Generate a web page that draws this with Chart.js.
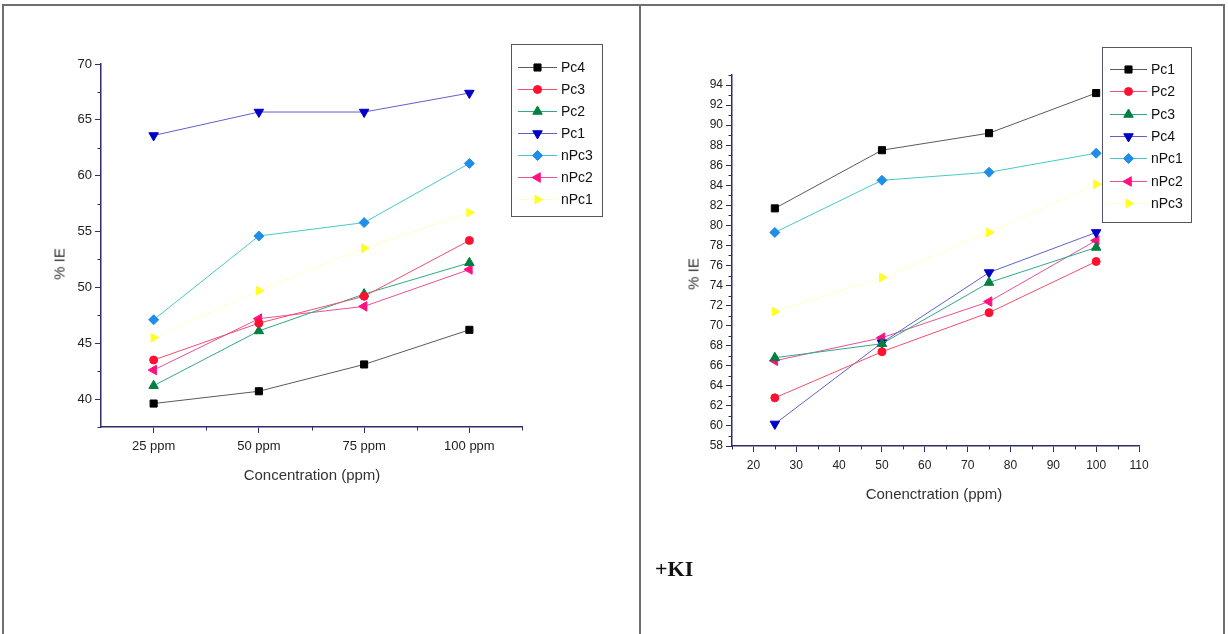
<!DOCTYPE html>
<html>
<head>
<meta charset="utf-8">
<script src="https://cdn.jsdelivr.net/npm/chart.js@4.4.1/dist/chart.umd.min.js"></script>
<style>
  html, body { margin:0; padding:0; background:#fff; }
  body { width:1228px; height:634px; position:relative; overflow:hidden; font-family:'Liberation Sans', Arial, sans-serif; }
  canvas { position:absolute; left:0; top:0; }
  .frame { position:absolute; background:#6e6e78; }
  .title { position:absolute; font-size:15px; font-weight:normal; color:#333; white-space:nowrap; transform:translate(-50%,-50%); }
  .ytitle { transform:translate(-50%,-50%) rotate(-90deg); }
  .ki { position:absolute; left:655px; top:558px; font-family:'Liberation Serif','Times New Roman',serif; font-weight:bold; font-size:22px; line-height:22px; color:#111; }
</style>
</head>
<body>
<div class="frame" style="left:2px;top:4px;width:1223px;height:2px;"></div>
<div class="frame" style="left:2px;top:4px;width:2px;height:630px;"></div>
<div class="frame" style="left:639px;top:4px;width:2px;height:630px;"></div>
<div class="frame" style="left:1223px;top:4px;width:2px;height:630px;"></div>
<canvas id="left" width="1228" height="634"></canvas>
<canvas id="right" width="1228" height="634"></canvas>
<div class="title ytitle" style="left:59px;top:264px;">% IE</div>
<div class="title" style="left:312px;top:474px;">Concentration (ppm)</div>
<div class="title ytitle" style="left:693px;top:274px;">% IE</div>
<div class="title" style="left:934px;top:493px;">Conenctration (ppm)</div>
<div class="ki">+KI</div>
<script>
// ---------- Left chart data ----------
const leftCategories = ['25 ppm', '50 ppm', '75 ppm', '100 ppm'];
const leftPc4  = [39.6, 40.7, 43.1, 46.2];
const leftPc3  = [43.5, 46.8, 49.2, 54.2];
const leftPc2  = [41.2, 46.1, 49.4, 52.2];
const leftPc1  = [63.6, 65.7, 65.7, 67.4];
const leftNPc3 = [47.1, 54.6, 55.8, 61.1];
const leftNPc2 = [42.6, 47.2, 48.3, 51.6];
const leftNPc1 = [45.5, 49.7, 53.5, 56.7];
const leftYTicks = [40, 45, 50, 55, 60, 65, 70];
const leftYMinor = [37.5, 42.5, 47.5, 52.5, 57.5, 62.5, 67.5];
const leftXTicks = [1, 2, 3, 4];
const leftXMinor = [1.5, 2.5, 3.5, 4.5];

// ---------- Right chart data ----------
const rightConc  = [25, 50, 75, 100];
const rightPc1  = [81.7, 87.5, 89.2, 93.2];
const rightPc2  = [62.8, 67.4, 71.3, 76.4];
const rightPc3  = [66.8, 68.2, 74.3, 77.8];
const rightPc4  = [60.2, 68.3, 75.3, 79.3];
const rightNPc1 = [79.3, 84.5, 85.3, 87.2];
const rightNPc2 = [66.5, 68.8, 72.4, 78.5];
const rightNPc3 = [71.4, 74.8, 79.3, 84.1];
const rightYTicks = [58, 60, 62, 64, 66, 68, 70, 72, 74, 76, 78, 80, 82, 84, 86, 88, 90, 92, 94];
const rightYMinor = [59, 61, 63, 65, 67, 69, 71, 73, 75, 77, 79, 81, 83, 85, 87, 89, 91, 93, 95];
const rightXTicks = [20, 30, 40, 50, 60, 70, 80, 90, 100, 110];
const rightXMinor = [15, 25, 35, 45, 55, 65, 75, 85, 95, 105];

// ---------- Styles ----------
const STY = {
  black:   { line:'#5a5a5a', mark:'#000000', style:'rect',     rot:0,   r:5 },
  red:     { line:'#f0506a', mark:'#ff1030', style:'circle',   rot:0,   r:4 },
  green:   { line:'#30a888', mark:'#008040', style:'triangle', rot:0,   r:5.5 },
  blue:    { line:'#6060cc', mark:'#0000c8', style:'triangle', rot:180, r:5.5 },
  cyan:    { line:'#48c8c8', mark:'#1e8ee8', style:'rectRot',  rot:0,   r:5 },
  magenta: { line:'#e8509a', mark:'#ff1080', style:'triangle', rot:270, r:5.5 },
  yellow:  { line:'#ffffcc', mark:'#ffff20', style:'triangle', rot:90,  r:5 }
};
const AXIS = '#2e2e6a';
const FONT = "'Liberation Sans', Arial, sans-serif";

function ds(label, xs, ys, key) {
  const s = STY[key];
  return {
    label,
    data: ys.map((v, i) => ({ x: xs[i], y: v })),
    borderColor: s.line, borderWidth: 1,
    pointStyle: s.style, rotation: s.rot, pointRadius: s.r,
    pointBackgroundColor: s.mark, pointBorderColor: s.mark, pointBorderWidth: 1,
    tension: 0, fill: false
  };
}

const minorTicks = {
  id: 'minorTicks',
  afterDraw(chart, args, opts) {
    const ctx = chart.ctx, xs = chart.scales.x, ys = chart.scales.y;
    ctx.save();
    ctx.strokeStyle = AXIS; ctx.lineWidth = 1;
    (opts.x || []).forEach(v => {
      const px = Math.round(xs.getPixelForValue(v)) + 0.5;
      ctx.beginPath(); ctx.moveTo(px, ys.bottom); ctx.lineTo(px, ys.bottom + 3.5); ctx.stroke();
    });
    (opts.y || []).forEach(v => {
      const py = Math.round(ys.getPixelForValue(v)) + 0.5;
      ctx.beginPath(); ctx.moveTo(xs.left, py); ctx.lineTo(xs.left - 3.5, py); ctx.stroke();
    });
    ctx.restore();
  }
};

const boxLegend = {
  id: 'boxLegend',
  afterDraw(chart, args, o) {
    const ctx = chart.ctx;
    ctx.save();
    ctx.strokeStyle = '#555566'; ctx.lineWidth = 1;
    ctx.strokeRect(o.x0 + 0.5, o.y0 + 0.5, o.x1 - o.x0, o.y1 - o.y0);
    ctx.font = '14px ' + FONT;
    ctx.textBaseline = 'middle'; ctx.textAlign = 'left';
    chart.data.datasets.forEach((d, i) => {
      const y = Math.round(o.rowY + i * o.step) + 0.5;
      ctx.strokeStyle = d.borderColor; ctx.lineWidth = 1;
      ctx.beginPath(); ctx.moveTo(o.lx0, y); ctx.lineTo(o.lx1, y); ctx.stroke();
      ctx.fillStyle = d.pointBackgroundColor; ctx.strokeStyle = d.pointBorderColor;
      Chart.helpers.drawPoint(ctx, { pointStyle: d.pointStyle, rotation: d.rotation, radius: d.pointRadius, borderWidth: 1 }, (o.lx0 + o.lx1) / 2, y);
      ctx.fillStyle = '#111';
      ctx.fillText(d.label, o.tx, y + 0.5);
    });
    ctx.restore();
  }
};

function makeChart(id, datasets, cfg) {
  return new Chart(document.getElementById(id), {
    type: 'line',
    data: { datasets },
    plugins: [minorTicks, boxLegend],
    options: {
      responsive: false, animation: false, devicePixelRatio: 1,
      layout: { padding: cfg.padding },
      plugins: {
        legend: { display: false }, tooltip: { enabled: false },
        minorTicks: { x: cfg.xMinor, y: cfg.yMinor },
        boxLegend: cfg.legend
      },
      scales: {
        x: {
          type: 'linear', min: cfg.xMin, max: cfg.xMax,
          afterBuildTicks: s => { s.ticks = cfg.xTicks.map(v => ({ value: v })); },
          afterFit: s => { s.height = 40; },
          grid: { drawOnChartArea: false, drawTicks: true, tickLength: 6, tickColor: AXIS, tickWidth: 1 },
          border: { display: true, color: AXIS, width: 1.5 },
          ticks: { autoSkip: false, maxRotation: 0, padding: cfg.xPad, color: '#222', font: { family: FONT, size: cfg.tickSize }, callback: cfg.xLabel }
        },
        y: {
          type: 'linear', min: cfg.yMin, max: cfg.yMax,
          afterBuildTicks: s => { s.ticks = cfg.yTicks.map(v => ({ value: v })); },
          afterFit: s => { s.width = 40; },
          grid: { drawOnChartArea: false, drawTicks: true, tickLength: 6, tickColor: AXIS, tickWidth: 1 },
          border: { display: true, color: AXIS, width: 1.5 },
          ticks: { autoSkip: false, padding: 3, color: '#222', font: { family: FONT, size: cfg.tickSize } }
        }
      }
    }
  });
}

const lx = leftXTicks;
makeChart('left', [
  ds('Pc4',  lx, leftPc4,  'black'),
  ds('Pc3',  lx, leftPc3,  'red'),
  ds('Pc2',  lx, leftPc2,  'green'),
  ds('Pc1',  lx, leftPc1,  'blue'),
  ds('nPc3', lx, leftNPc3, 'cyan'),
  ds('nPc2', lx, leftNPc2, 'magenta'),
  ds('nPc1', lx, leftNPc1, 'yellow')
], {
  padding: { left: 61, right: 706, top: 64, bottom: 167 },
  xMin: 0.5, xMax: 4.5, yMin: 37.5, yMax: 70,
  xTicks: leftXTicks, yTicks: leftYTicks, xMinor: leftXMinor, yMinor: leftYMinor,
  xLabel: v => leftCategories[leftXTicks.indexOf(v)] || '',
  xPad: 6, tickSize: 13,
  legend: { x0: 511, y0: 44, x1: 602, y1: 216, rowY: 66.5, step: 22, lx0: 518, lx1: 557, tx: 561 }
});

makeChart('right', [
  ds('Pc1',  rightConc, rightPc1,  'black'),
  ds('Pc2',  rightConc, rightPc2,  'red'),
  ds('Pc3',  rightConc, rightPc3,  'green'),
  ds('Pc4',  rightConc, rightPc4,  'blue'),
  ds('nPc1', rightConc, rightNPc1, 'cyan'),
  ds('nPc2', rightConc, rightNPc2, 'magenta'),
  ds('nPc3', rightConc, rightNPc3, 'yellow')
], {
  padding: { left: 692, right: 89, top: 75, bottom: 148 },
  xMin: 15, xMax: 110, yMin: 58, yMax: 95,
  xTicks: rightXTicks, yTicks: rightYTicks, xMinor: rightXMinor, yMinor: rightYMinor,
  xLabel: v => String(v),
  xPad: 6, tickSize: 12,
  legend: { x0: 1102, y0: 47, x1: 1191, y1: 222, rowY: 69, step: 22.3, lx0: 1110, lx1: 1147, tx: 1151 }
});
</script>
</body>
</html>
